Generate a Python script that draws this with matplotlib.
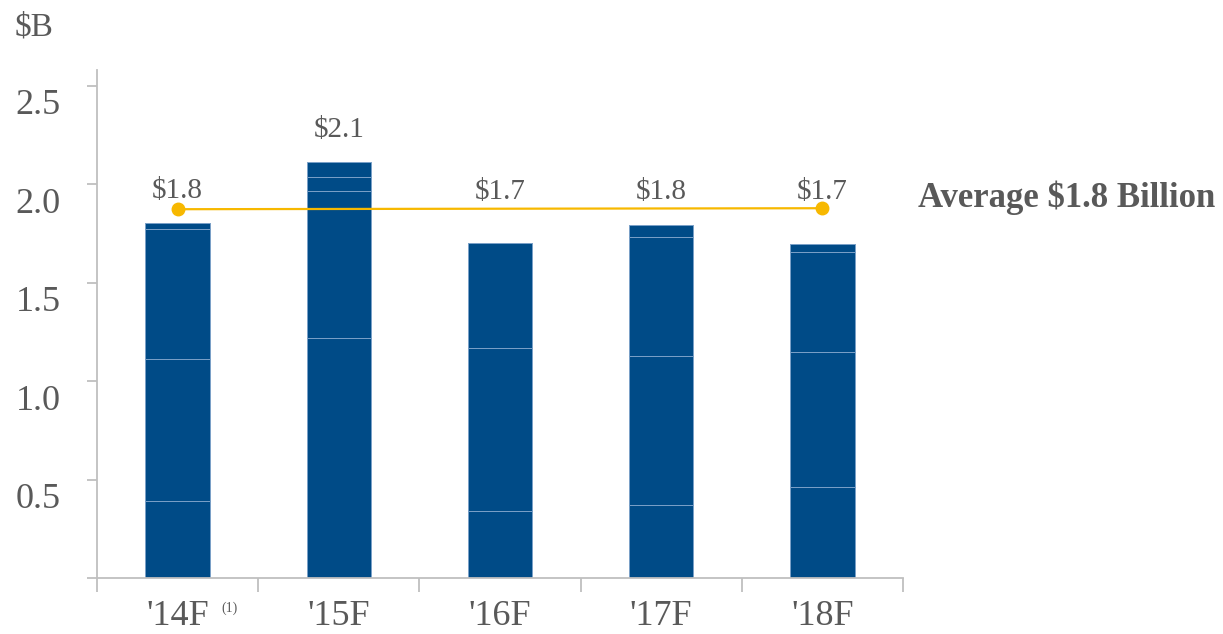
import numpy as np
import matplotlib.pyplot as plt
from matplotlib.transforms import ScaledTranslation

plt.rcParams['font.family'] = ['Liberation Serif', 'DejaVu Serif']

years = ["'14F", "'15F", "'16F", "'17F", "'18F"]

# stacked segments ($B), bottom to top
seg1 = [0.39, 0.00, 0.34, 0.37, 0.46]
seg2 = [0.72, 1.22, 0.83, 0.76, 0.69]
seg3 = [0.665, 0.745, 0.53, 0.60, 0.505]
seg4 = [0.03, 0.07, 0.00, 0.065, 0.04]
seg5 = [0.00, 0.08, 0.00, 0.00, 0.00]
totals_lbl = ["$1.8", "$2.1", "$1.7", "$1.8", "$1.7"]

avg_years = ["'14F", "'18F"]
avg_vals = [1.873, 1.878]
avg_text = "Average $1.8 Billion"

grey = "#595959"
axis_col = "#bfbfbf"
bar_col = "#004b87"
edge_col = "#7aa0c8"
gold = "#f7b800"

fig = plt.figure(figsize=(12.23, 6.34), dpi=100)
ax = fig.add_axes([97 / 1223, 1 - 578 / 634, 806 / 1223, 508 / 634])

x = np.arange(len(years))
bottom = np.zeros(len(years))
for seg in (seg1, seg2, seg3, seg4, seg5):
    ax.bar(x, seg, 0.40, bottom=bottom, color=bar_col, edgecolor=edge_col,
           linewidth=0.7, zorder=2)
    bottom += np.array(seg)

# value labels above each bar (or above the average line)
for xi, tot, lab in zip(x, bottom, totals_lbl):
    ax.text(xi, max(tot + 0.16, 1.96), lab, ha="center", va="center",
            fontsize=21, color=grey)

ax_x = [years.index(y) for y in avg_years]
ax.plot(ax_x, avg_vals, color=gold, lw=1.6, marker="o", markersize=9, zorder=3)
ax.text(4.59, 1.93, avg_text, ha="left", va="center", fontsize=25,
        fontweight="bold", color=grey, clip_on=False)

ax.set_xlim(-0.5, 4.5)
ax.set_ylim(0, 2.58)

for s in ["top", "right"]:
    ax.spines[s].set_visible(False)
for s in ["left", "bottom"]:
    ax.spines[s].set_color(axis_col)
    ax.spines[s].set_linewidth(1.3)

ax.set_yticks([0, 0.5, 1.0, 1.5, 2.0, 2.5])
ax.set_yticklabels(["", "0.5", "1.0", "1.5", "2.0", "2.5"])
ax.tick_params(axis="y", length=7, width=1.3, color=axis_col, labelsize=26,
               labelcolor=grey, pad=19)
off = ScaledTranslation(0, -16 / 100, fig.dpi_scale_trans)
for lab in ax.get_yticklabels():
    lab.set_transform(lab.get_transform() + off)

ax.set_xticks(x)
ax.set_xticklabels(years)
ax.set_xticks(np.arange(-0.5, 5.0, 1.0), minor=True)
ax.tick_params(axis="x", which="major", length=0, labelsize=26,
               labelcolor=grey, pad=16)
ax.tick_params(axis="x", which="minor", length=10, width=1.3, color=axis_col)

fig.text(221 / 1223, 1 - 608 / 634, "(1)", fontsize=10, color=grey,
         ha="left", va="center")
fig.text(15 / 1223, 1 - 27 / 634, "$B", fontsize=24, color=grey,
         ha="left", va="center")

fig.savefig("out.png", dpi=100)
